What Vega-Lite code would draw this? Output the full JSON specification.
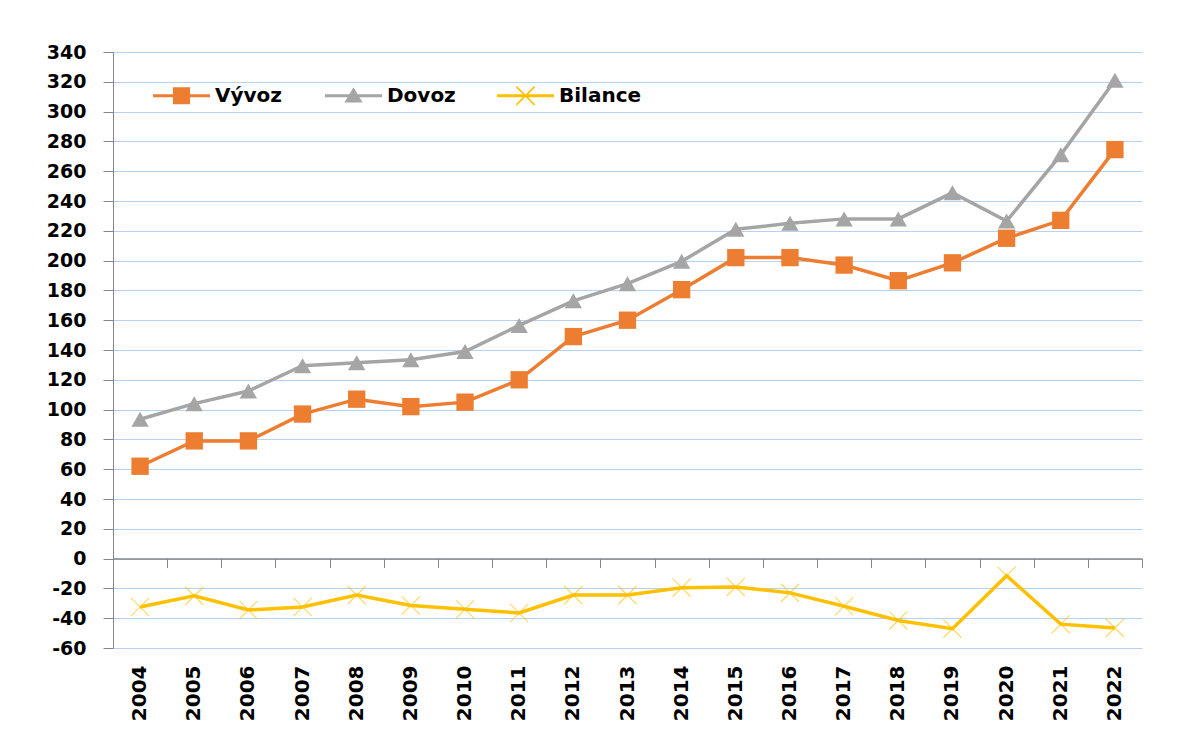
{
  "$schema": "https://vega.github.io/schema/vega-lite/v6.json",
  "width": 1029,
  "height": 596,
  "autosize": {"type": "none"},
  "padding": {"left": 113, "top": 52, "right": 57, "bottom": 108},
  "background": "white",
  "config": {"view": {"stroke": null}, "font": "DejaVu Sans"},
  "data": {"values": [
    {"year": "2004", "series": "Vývoz", "value": 62},
    {"year": "2005", "series": "Vývoz", "value": 79},
    {"year": "2006", "series": "Vývoz", "value": 79},
    {"year": "2007", "series": "Vývoz", "value": 97},
    {"year": "2008", "series": "Vývoz", "value": 107},
    {"year": "2009", "series": "Vývoz", "value": 102},
    {"year": "2010", "series": "Vývoz", "value": 105},
    {"year": "2011", "series": "Vývoz", "value": 120},
    {"year": "2012", "series": "Vývoz", "value": 149},
    {"year": "2013", "series": "Vývoz", "value": 160},
    {"year": "2014", "series": "Vývoz", "value": 180.5},
    {"year": "2015", "series": "Vývoz", "value": 202},
    {"year": "2016", "series": "Vývoz", "value": 202},
    {"year": "2017", "series": "Vývoz", "value": 197},
    {"year": "2018", "series": "Vývoz", "value": 186.5},
    {"year": "2019", "series": "Vývoz", "value": 198.5},
    {"year": "2020", "series": "Vývoz", "value": 215},
    {"year": "2021", "series": "Vývoz", "value": 227},
    {"year": "2022", "series": "Vývoz", "value": 274.5},
    {"year": "2004", "series": "Dovoz", "value": 93.5},
    {"year": "2005", "series": "Dovoz", "value": 104},
    {"year": "2006", "series": "Dovoz", "value": 112.5},
    {"year": "2007", "series": "Dovoz", "value": 129.5},
    {"year": "2008", "series": "Dovoz", "value": 131.5},
    {"year": "2009", "series": "Dovoz", "value": 133.5},
    {"year": "2010", "series": "Dovoz", "value": 139},
    {"year": "2011", "series": "Dovoz", "value": 156.5},
    {"year": "2012", "series": "Dovoz", "value": 173},
    {"year": "2013", "series": "Dovoz", "value": 184.5},
    {"year": "2014", "series": "Dovoz", "value": 199.5},
    {"year": "2015", "series": "Dovoz", "value": 221},
    {"year": "2016", "series": "Dovoz", "value": 225},
    {"year": "2017", "series": "Dovoz", "value": 228},
    {"year": "2018", "series": "Dovoz", "value": 228},
    {"year": "2019", "series": "Dovoz", "value": 245.5},
    {"year": "2020", "series": "Dovoz", "value": 226.5},
    {"year": "2021", "series": "Dovoz", "value": 271},
    {"year": "2022", "series": "Dovoz", "value": 321},
    {"year": "2004", "series": "Bilance", "value": -32.5},
    {"year": "2005", "series": "Bilance", "value": -25},
    {"year": "2006", "series": "Bilance", "value": -34.5},
    {"year": "2007", "series": "Bilance", "value": -32.5},
    {"year": "2008", "series": "Bilance", "value": -24.5},
    {"year": "2009", "series": "Bilance", "value": -31.5},
    {"year": "2010", "series": "Bilance", "value": -34},
    {"year": "2011", "series": "Bilance", "value": -36.5},
    {"year": "2012", "series": "Bilance", "value": -24.5},
    {"year": "2013", "series": "Bilance", "value": -24.5},
    {"year": "2014", "series": "Bilance", "value": -19.5},
    {"year": "2015", "series": "Bilance", "value": -19},
    {"year": "2016", "series": "Bilance", "value": -23},
    {"year": "2017", "series": "Bilance", "value": -32},
    {"year": "2018", "series": "Bilance", "value": -41.5},
    {"year": "2019", "series": "Bilance", "value": -47},
    {"year": "2020", "series": "Bilance", "value": -11.5},
    {"year": "2021", "series": "Bilance", "value": -44},
    {"year": "2022", "series": "Bilance", "value": -46.5}
  ]},
  "encoding": {
    "y": {
      "field": "value", "type": "quantitative",
      "scale": {"domain": [-60, 340], "nice": false, "zero": false},
      "axis": {
        "values": [-60, -40, -20, 0, 20, 40, 60, 80, 100, 120, 140, 160, 180, 200, 220, 240, 260, 280, 300, 320, 340],
        "labelExpr": "'' + datum.value",
        "title": null, "grid": true, "gridColor": "#B9D1F0", "gridWidth": 1,
        "domainColor": "#868686", "tickColor": "#868686", "tickSize": 10,
        "labelPadding": 17, "labelFont": "DejaVu Sans", "labelFontWeight": "bold",
        "labelFontSize": 19, "labelColor": "#000000"
      }
    },
    "color": {
      "field": "series", "type": "nominal",
      "scale": {"domain": ["Vývoz", "Dovoz", "Bilance"], "range": ["#ED7D31", "#A5A5A5", "#FFC000"]},
      "legend": {
        "orient": "none", "legendX": 40, "legendY": 15, "direction": "horizontal",
        "title": null, "symbolSize": 3249, "labelFont": "DejaVu Sans", "labelFontSize": 20,
        "labelFontWeight": "bold", "labelColor": "#000000", "labelOffset": 5,
        "columnPadding": 27, "gridAlign": "all", "padding": 0, "symbolStrokeWidth": 0,
        "encode": {"symbols": {"update": {
          "shape": {"signal": "datum.value === 'Vývoz' ? 'M-1,-0.055H1V0.055H-1Z M-0.3,-0.3H0.3V0.3H-0.3Z' : datum.value === 'Dovoz' ? 'M-1,-0.055H1V0.055H-1Z M0,-0.3L0.32,0.24H-0.32Z' : 'M-1,-0.055H1V0.055H-1Z M-0.3,-0.34L0.34,0.3L0.3,0.34L-0.34,-0.3Z M-0.34,0.3L0.3,-0.34L0.34,-0.3L-0.3,0.34Z'"},
          "fill": {"scale": "color", "field": "value"},
          "fillOpacity": {"value": 1},
          "strokeWidth": {"value": 0},
          "opacity": {"value": 1}
        }}}
      }
    }
  },
  "layer": [
    {
      "mark": {"type": "line", "strokeWidth": 3.5},
      "encoding": {
        "x": {
          "field": "year", "type": "ordinal", "bandPosition": 0.5,
          "scale": {"type": "band", "paddingInner": 0, "paddingOuter": 0},
          "axis": {
            "orient": "bottom", "offset": -89.4, "labels": false, "domain": true,
            "domainColor": "#868686", "domainWidth": 1.5, "ticks": true, "tickColor": "#868686",
            "tickSize": 9, "tickBand": "extent", "grid": false, "title": null
          }
        }
      }
    },
    {
      "mark": {"type": "point", "filled": true, "size": 300, "opacity": 1},
      "encoding": {
        "x": {
          "field": "year", "type": "ordinal", "bandPosition": 0.5,
          "scale": {"type": "band", "paddingInner": 0, "paddingOuter": 0},
          "axis": {
            "orient": "bottom", "labels": true, "labelAngle": -90, "domain": false,
            "ticks": false, "labelPadding": 17, "labelFont": "DejaVu Sans", "labelFontSize": 20,
            "labelFontWeight": "bold", "labelColor": "#000000", "title": null, "grid": false
          }
        },
        "shape": {
          "condition": [
            {"test": "datum.series === 'Vývoz'", "value": "square"},
            {"test": "datum.series === 'Dovoz'", "value": "triangle-up"}
          ],
          "value": "M-1,-1.1L1.1,1L1,1.1L-1.1,-1Z M-1.1,1L1,-1.1L1.1,-1L-1,1.1Z"
        },
        "fillOpacity": {"condition": {"test": "datum.series === 'Bilance'", "value": 0.6}, "value": 1}
      }
    }
  ],
  "resolve": {"axis": {"x": "independent"}}
}
